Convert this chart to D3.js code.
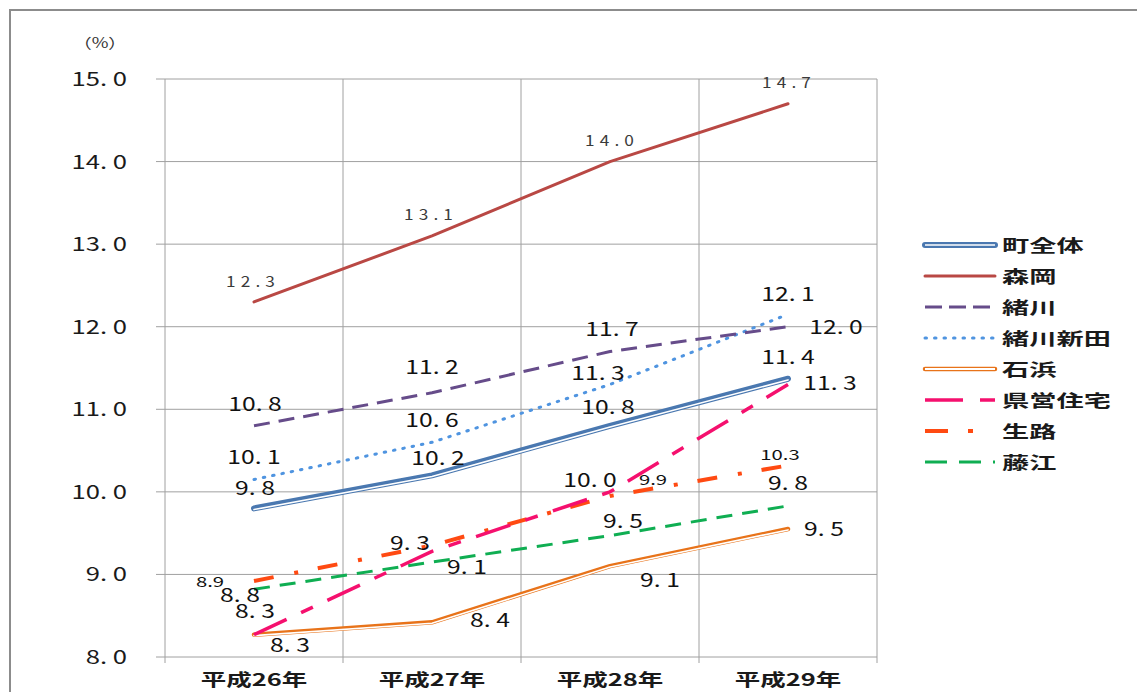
<!DOCTYPE html>
<html>
<head>
    <meta charset="utf-8">
    <title>地区別の割合</title>
    <style>
        body { margin: 0; background: #fff; }
        text { font-family: "Noto Sans CJK JP", "DejaVu Sans", sans-serif; }
    </style>
</head>
<body>
    <svg width="1137" height="692"></svg>
    <script src="https://d3js.org/d3.v7.min.js"></script>
    <script>
        // categories and tick values
        var years = ["平成26年", "平成27年", "平成28年", "平成29年"];
        var yTicks = [8, 9, 10, 11, 12, 13, 14, 15];
        var seriesNames = ["町全体", "森岡", "緒川", "緒川新田", "石浜", "県営住宅", "生路", "藤江"];

        // values per area
        var zentai  = [9.8, 10.2, 10.8, 11.37];
        var morioka = [12.3, 13.1, 14.0, 14.7];
        var ogawa   = [10.8, 11.2, 11.7, 12.0];
        var ogawaShinden = [10.15, 10.6, 11.3, 12.15];
        var ishihama = [8.27, 8.42, 9.1, 9.55];
        var kenei   = [8.27, 9.28, 10.0, 11.3];
        var ikuji   = [8.92, 9.35, 9.95, 10.32];
        var fujie   = [8.82, 9.15, 9.47, 9.83];

        // data labels as shown (null = no label)
        var zentaiLbl  = ["9.8", "10.2", "10.8", "11.4"];
        var moriokaLbl = ["12.3", "13.1", "14.0", "14.7"];
        var ogawaLbl   = ["10.8", "11.2", "11.7", "12.0"];
        var ogawaShindenLbl = ["10.1", "10.6", "11.3", "12.1"];
        var ishihamaLbl = ["8.3", "8.4", "9.1", "9.5"];
        var keneiLbl   = ["8.3", "9.3", "10.0", "11.3"];
        var ikujiLbl   = ["8.9", null, "9.9", "10.3"];
        var fujieLbl   = ["8.8", "9.1", "9.5", "9.8"];

        var svg = d3.select("svg");

        // text that is stretched sideways like the original
        function wideText(parent, tx, ty, str, size, sx, anchor) {
            return parent.append("text")
                .attr("transform", "translate(" + tx + "," + ty + ") scale(" + sx + ",1)")
                .attr("text-anchor", anchor || "middle")
                .attr("font-size", size)
                .text(str);
        }

        // outer frame
        svg.append("rect")
            .attr("x", 10).attr("y", 10)
            .attr("width", 1140).attr("height", 700)
            .attr("fill", "none").attr("stroke", "#8c8c8c").attr("stroke-width", 2);

        var pLeft = 165, pRight = 877, pTop = 79, pBottom = 657;

        var x = d3.scaleBand().domain(years).range([pLeft, pRight]);
        var y = d3.scaleLinear().domain([8, 15]).range([pBottom, pTop]);

        var g = svg.append("g");

        // horizontal grid
        g.append("g").selectAll("line").data(yTicks).enter().append("line")
            .attr("x1", pLeft - 9).attr("x2", pRight)
            .attr("y1", function(d){ return y(d); })
            .attr("y2", function(d){ return y(d); })
            .attr("stroke", "#a0a0a0").attr("stroke-width", 1);

        // vertical grid at category borders
        var borders = years.map(function(d){ return x(d); }).concat([pRight]);
        g.append("g").selectAll("line").data(borders).enter().append("line")
            .attr("x1", function(d){ return d; })
            .attr("x2", function(d){ return d; })
            .attr("y1", pTop).attr("y2", pBottom + 6)
            .attr("stroke", "#a0a0a0").attr("stroke-width", 1);

        // y tick labels
        yTicks.forEach(function(d){
            wideText(g, 127, y(d) + 7, d.toFixed(1).replace(".", ". "), 19, 1.35, "end")
                .attr("fill", "#1a1a1a");
        });

        wideText(svg, 100, 48, "（%）", 14, 1.3).attr("fill", "#333");

        // x labels
        years.forEach(function(d){
            wideText(g, x(d) + x.bandwidth() / 2, 686, d, 17, 1.5)
                .attr("font-weight", "bold").attr("fill", "#1a1a1a");
        });

        var cx = function(i){ return x(years[i]) + x.bandwidth() / 2; };
        var line = d3.line()
            .x(function(d, i){ return cx(i); })
            .y(function(d){ return y(d); });

        // label placement: offset of label centre from the point
        var series = [
            { v: ishihama, lbl: ishihamaLbl, color: "#e8731a", w: 4.5, dash: null, inner: 1.6,
              off: [[36, 10], [58, -2], [50, 14], [36, 0]] },
            { v: fujie, lbl: fujieLbl, color: "#0fae52", w: 3, dash: "16,10", inner: 0,
              off: [[-14, 6], [35, 5], [13, -15], [0, -23]] },
            { v: ikuji, lbl: ikujiLbl, color: "#ff4a12", w: 4, dash: "20,21,4,20", inner: 0, small: true,
              off: [[-44, 1], [0, 0], [43, -16], [-8, -10]] },
            { v: kenei, lbl: keneiLbl, color: "#f5106e", w: 3.5, dash: "36,16,13,16", inner: 0,
              off: [[1, -24], [-22, -8], [-20, -12], [42, -2]] },
            { v: ogawaShinden, lbl: ogawaShindenLbl, color: "#4f94e0", w: 3, dash: "1.5,8", inner: 0, cap: "round",
              off: [[0, -22], [0, -22], [-12, -12], [0, -20]] },
            { v: ogawa, lbl: ogawaLbl, color: "#664c8a", w: 3, dash: "16,9", inner: 0,
              off: [[1, -22], [0, -26], [2, -22], [48, 0]] },
            { v: morioka, lbl: moriokaLbl, color: "#b94844", w: 3, dash: null, inner: 0, thin: true,
              off: [[-1, -20], [-1, -21], [2, -21], [1, -21]] },
            { v: zentai, lbl: zentaiLbl, color: "#4a78b0", w: 6, dash: null, inner: 1.6,
              off: [[1, -20], [6, -17], [-2, -19], [0, -22]] }
        ];

        series.forEach(function(s){
            g.append("path")
                .attr("d", line(s.v))
                .attr("fill", "none")
                .attr("stroke", s.color)
                .attr("stroke-width", s.w)
                .attr("stroke-dasharray", s.dash)
                .attr("stroke-linecap", s.cap || (s.dash ? "butt" : "round"))
                .attr("stroke-linejoin", "round");
            if (s.inner) {
                g.append("path")
                    .attr("d", line(s.v))
                    .attr("transform", "translate(0," + (s.w / 5) + ")")
                    .attr("fill", "none")
                    .attr("stroke", "#fff")
                    .attr("stroke-width", s.inner)
                    .attr("stroke-linecap", "round")
                    .attr("stroke-linejoin", "round");
            }
        });

        // data labels
        series.forEach(function(s){
            s.lbl.forEach(function(t, i){
                if (t === null) return;
                var o = s.off[i];
                var px = cx(i) + o[0], py = y(s.v[i]) + o[1];
                if (s.small) {
                    wideText(g, px, py + 5, t, 14, 1.45).attr("fill", "#111");
                } else if (s.thin) {
                    wideText(g, px, py + 5, t, 15, 1.15)
                        .attr("letter-spacing", 4.5).attr("fill", "#3a3a3a");
                } else {
                    wideText(g, px, py + 7, t.replace(".", ". "), 19, 1.3).attr("fill", "#111");
                }
            });
        });

        // legend
        var legendRows = [
            { name: seriesNames[0], color: "#4a78b0", w: 6, dash: null, inner: 1.6 },
            { name: seriesNames[1], color: "#b94844", w: 3, dash: null },
            { name: seriesNames[2], color: "#664c8a", w: 3, dash: "17,7" },
            { name: seriesNames[3], color: "#4f94e0", w: 3, dash: "1.5,8", cap: "round" },
            { name: seriesNames[4], color: "#e8731a", w: 4.5, dash: null, inner: 1.8 },
            { name: seriesNames[5], color: "#f5106e", w: 3.5, dash: "38,17,15,17" },
            { name: seriesNames[6], color: "#ff4a12", w: 4, dash: "23,20,5,30" },
            { name: seriesNames[7], color: "#0fae52", w: 3, dash: "22,12" }
        ];
        var ly = d3.scalePoint().domain(seriesNames).range([245, 462]);
        var lg = svg.append("g").selectAll("g").data(legendRows).enter().append("g")
            .attr("transform", function(d){ return "translate(0," + ly(d.name) + ")"; });
        lg.append("line")
            .attr("x1", 925).attr("x2", 995)
            .attr("stroke", function(d){ return d.color; })
            .attr("stroke-width", function(d){ return d.w; })
            .attr("stroke-dasharray", function(d){ return d.dash; })
            .attr("stroke-linecap", function(d){ return d.cap || (d.dash ? "butt" : "round"); });
        lg.filter(function(d){ return d.inner; }).append("line")
            .attr("x1", 925).attr("x2", 995)
            .attr("stroke", "#fff")
            .attr("stroke-width", function(d){ return d.inner; });
        lg.each(function(d){
            wideText(d3.select(this), 1002, 7, d.name, 16.5, 1.65, "start")
                .attr("font-weight", "bold").attr("fill", "#1a1a1a");
        });
    </script>
</body>
</html>
